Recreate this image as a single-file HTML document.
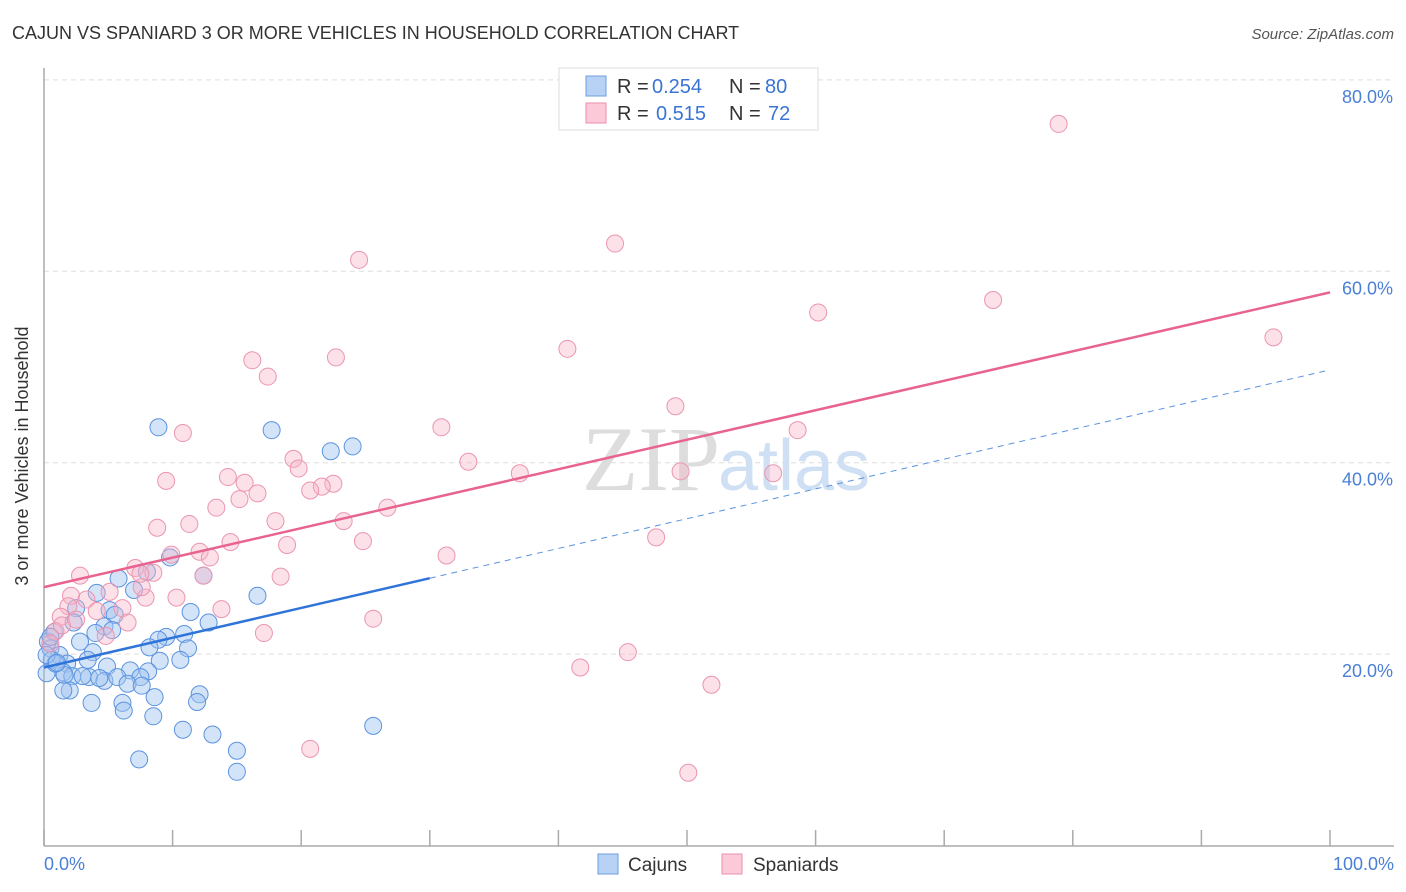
<!DOCTYPE html>
<html><head><meta charset="utf-8"><style>
body{margin:0;background:#fff;font-family:"Liberation Sans",sans-serif;}
svg{display:block}
</style></head><body>
<svg width="1406" height="892" xmlns="http://www.w3.org/2000/svg">
<text x="12" y="39" font-size="18" fill="#333">CAJUN VS SPANIARD 3 OR MORE VEHICLES IN HOUSEHOLD CORRELATION CHART</text>
<text x="1394" y="39" font-size="15" fill="#555" font-style="italic" text-anchor="end">Source: ZipAtlas.com</text>
<g id="grid"></g>
<text x="720" y="490" font-size="92" fill="#ddd" text-anchor="end" font-family="Liberation Serif">ZIP</text>
<text x="718" y="490" font-size="72" fill="#cfe0f5">atlas</text>
<line x1="44" y1="68" x2="44" y2="846" stroke="#aaa" stroke-width="1.5"/>
<line x1="44" y1="846" x2="1394" y2="846" stroke="#aaa" stroke-width="1.5"/>
<g id="ticks"></g>
<g id="pts"></g>
<g id="lines"></g>
<text x="28" y="456" font-size="18" fill="#333" text-anchor="middle" transform="rotate(-90 28 456)">3 or more Vehicles in Household</text>
<text x="44" y="870" font-size="18" fill="#4a7fd6">0.0%</text>
<text x="1394" y="870" font-size="18" fill="#4a7fd6" text-anchor="end">100.0%</text>
<g>
<rect x="559" y="68" width="259" height="62" fill="#fff" stroke="#ddd"/>
<rect x="586" y="76" width="20" height="20" fill="#b8d2f5" stroke="#6d9de0"/>
<rect x="586" y="103" width="20" height="20" fill="#fbc9d8" stroke="#ec8fab"/>
<text x="617" y="93" font-size="20" fill="#333">R =</text>
<text x="652" y="93" font-size="20" fill="#3a74d4">0.254</text>
<text x="729" y="93" font-size="20" fill="#333">N =</text>
<text x="765" y="93" font-size="20" fill="#3a74d4">80</text>
<text x="617" y="120" font-size="20" fill="#333">R =</text>
<text x="656" y="120" font-size="20" fill="#3a74d4">0.515</text>
<text x="729" y="120" font-size="20" fill="#333">N =</text>
<text x="768" y="120" font-size="20" fill="#3a74d4">72</text>
</g>
<g>
<rect x="598" y="854" width="20" height="20" fill="#b8d2f5" stroke="#6d9de0"/>
<text x="628" y="871" font-size="19" fill="#333">Cajuns</text></g>
<g>
<rect x="722" y="854" width="20" height="20" fill="#fbc9d8" stroke="#ec8fab"/>
<text x="753" y="871" font-size="19" fill="#333">Spaniards</text></g>
</svg>
<script>
const yTicks=[20,40,60,80];
const yTickLabels=["20.0%","40.0%","60.0%","80.0%"];
const xTicks=[0,10,20,30,40,50,60,70,80,90,100];
const cajunX=[8.9,17.7,22.3,24.0,9.8,12.4,5.8,8.0,7.0,4.1,16.6,5.1,11.4,5.5,2.5,12.8,2.3,4.7,4.0,5.3,10.9,0.8,9.5,8.9,2.8,8.2,11.2,0.3,0.5,1.2,3.8,10.6,9.0,1.8,3.4,4.9,6.7,8.1,1.5,2.2,3.5,4.7,5.7,7.5,1.6,0.6,6.5,7.6,12.1,8.6,2.0,3.7,6.1,11.9,6.2,8.5,10.8,13.1,25.6,15.0,7.4,15.0,0.2,0.9,0.2,0.5,1.0,1.5,3.0,4.3];
const cajunY=[43.7,43.4,41.2,41.7,30.1,28.2,27.9,28.6,26.7,26.4,26.1,24.6,24.4,24.1,24.8,23.3,23.3,22.9,22.2,22.5,22.1,22.3,21.8,21.5,21.3,20.7,20.6,21.3,20.6,19.9,20.2,19.4,19.3,19.0,19.4,18.7,18.3,18.2,18.1,17.7,17.6,17.2,17.6,17.6,17.8,19.4,16.9,16.7,15.8,15.5,16.2,14.9,14.9,15.0,14.1,13.5,12.1,11.6,12.5,9.9,9.0,7.7,18.0,19.0,19.9,21.8,19.1,16.2,17.7,17.5];
const spanX=[78.9,44.4,24.5,73.8,60.2,95.6,40.7,16.2,22.7,17.4,49.1,10.8,30.9,58.6,19.4,19.8,33.0,37.0,49.5,56.7,9.5,14.3,15.6,22.5,21.6,20.7,16.6,15.2,13.4,26.7,11.3,18.0,23.3,8.8,14.5,24.8,18.9,31.3,47.6,12.1,12.9,9.9,8.5,7.1,2.8,12.4,18.4,10.3,7.9,5.1,2.1,1.9,3.3,6.1,13.8,4.1,25.6,6.5,1.3,17.1,4.8,0.9,0.5,41.7,45.4,51.9,20.7,50.1,7.6,1.4,2.5,7.5];
const spanY=[75.4,62.9,61.2,57.0,55.7,53.1,51.9,50.7,51.0,49.0,45.9,43.1,43.7,43.4,40.4,39.4,40.1,38.9,39.1,38.9,38.1,38.5,37.9,37.8,37.5,37.1,36.8,36.2,35.3,35.3,33.6,33.9,33.9,33.2,31.7,31.8,31.4,30.3,32.2,30.7,30.1,30.4,28.5,29.0,28.2,28.2,28.1,25.9,25.9,26.5,26.1,25.0,25.7,24.8,24.7,24.5,23.7,23.3,23.9,22.2,21.9,22.4,21.1,18.6,20.2,16.8,10.1,7.6,27.0,23.0,23.6,28.4];
const trendSpan=[27.0,57.8];
const trendCajun=[18.6,49.7];
const cajunSolidEnd=30;
const NS="http://www.w3.org/2000/svg";
const X=v=>44+v*12.86, Y=v=>845.5-v*9.57;
function mk(tag,attrs,parent){const e=document.createElementNS(NS,tag);for(const k in attrs)e.setAttribute(k,attrs[k]);parent.appendChild(e);return e;}
const grid=document.getElementById('grid');
yTicks.forEach((t,i)=>{
 const l=mk('line',{x1:44,x2:1394,y1:Y(t),y2:Y(t),stroke:'#ddd','stroke-dasharray':'5,4'},grid);
 
 
 const tx=mk('text',{x:1393,y:Y(t)+23,'font-size':18,fill:'#4a7fd6','text-anchor':'end'},grid);
 tx.textContent=yTickLabels[i];
 
 
});
const ticks=document.getElementById('ticks');
xTicks.forEach(t=>{
 const l=mk('line',{x1:X(t),x2:X(t),y1:830,y2:846,stroke:'#aaa','stroke-width':1.5},ticks);
 
 
});
const pts=document.getElementById('pts');
cajunX.forEach((x,i)=>{
 const c=mk('circle',{cx:X(x),cy:Y(cajunY[i]),r:8.5,fill:'rgba(160,195,240,0.45)',stroke:'#5b93e0','stroke-width':1},pts);
 
 
});
spanX.forEach((x,i)=>{
 const c=mk('circle',{cx:X(x),cy:Y(spanY[i]),r:8.5,fill:'rgba(248,180,200,0.4)',stroke:'#eb95b0','stroke-width':1},pts);
 
 
});
const lines=document.getElementById('lines');
const at=(tr,x)=>tr[0]+(tr[1]-tr[0])*x/100;
let l1=mk('line',{x1:X(0),y1:Y(at(trendSpan,0)),x2:X(100),y2:Y(at(trendSpan,100)),stroke:'#e8638f','stroke-width':2.5},lines);


let l2=mk('line',{x1:X(0),y1:Y(at(trendCajun,0)),x2:X(cajunSolidEnd),y2:Y(at(trendCajun,cajunSolidEnd)),stroke:'#2f74d8','stroke-width':2.5},lines);


let l3=mk('line',{x1:X(cajunSolidEnd),y1:Y(at(trendCajun,cajunSolidEnd)),x2:X(100),y2:Y(at(trendCajun,100)),stroke:'#5b93e0','stroke-width':1,'stroke-dasharray':'6,5'},lines);


</script>
</body></html>
